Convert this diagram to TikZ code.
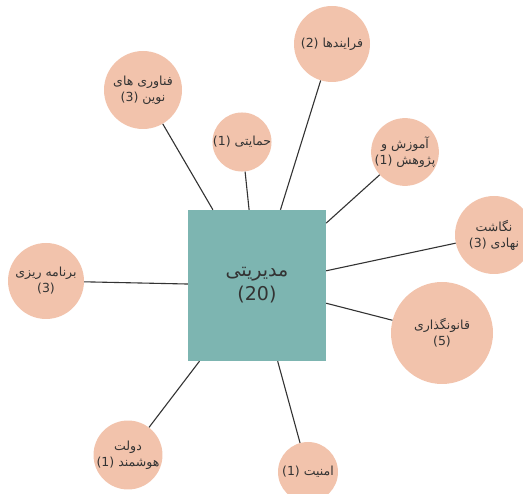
\documentclass[tikz,border=0pt]{standalone}
\usepackage{fontspec}
\newfontfamily\fafont[Script=Arabic]{DejaVu Sans}
\TeXXeTstate=1
\definecolor{mapink}{HTML}{333333}
\definecolor{mapteal}{HTML}{7DB5B1}
\definecolor{mappeach}{HTML}{F2C3AC}
\tikzset{
  core box/.style={
    rectangle, fill=mapteal, draw=none,
    minimum width=138pt, minimum height=151pt, inner sep=0pt,
    text=mapink, align=center, font=\fafont\fontsize{19}{24}\selectfont
  },
  topic circle/.style={
    circle, fill=mappeach, draw=none, inner sep=0pt,
    text=mapink, align=center, font=\fafont\fontsize{12.5}{16}\selectfont
  },
  topic link/.style={
    draw=mapink, line width=1.1pt
  }
}
\newcommand{\rtl}[1]{\beginR #1\endR}
\newcommand{\num}[1]{\beginL(#1)\endL}

\begin{document}
\begin{tikzpicture}[x=1pt,y=-1pt]
  \useasboundingbox (0,0) rectangle (523,494);

  % Topics around the central category, with their counts.
  \node[core box] (mgmt) at (257,285.5) {\rtl{مدیریتی}\\\num{20}};
  \node[topic circle, minimum size=76pt] (proc) at (332,44) {\rtl{فرایندها \num{2}}};
  \node[topic circle, minimum size=78pt] (tech) at (143,90) {\rtl{فناوری های}\\\rtl{نوین \num{3}}};
  \node[topic circle, minimum size=57pt] (supp) at (242,142) {\rtl{حمایتی \num{1}}};
  \node[topic circle, minimum size=54pt] (edu) at (405,152) {\rtl{آموزش و}\\\rtl{پژوهش \num{1}}};
  \node[topic circle, minimum size=78pt] (inst) at (494,235) {\rtl{نگاشت}\\\rtl{نهادی \num{3}}};
  \node[topic circle, minimum size=76pt] (plan) at (46,281) {\rtl{برنامه ریزی}\\\num{3}};
  \node[topic circle, minimum size=102pt] (law) at (442,333) {\rtl{قانونگذاری}\\\num{5}};
  \node[topic circle, minimum size=64pt] (egov) at (128,455) {\rtl{دولت}\\\rtl{هوشمند \num{1}}};
  \node[topic circle, minimum size=60pt] (sec) at (308,472) {\rtl{امنیت \num{1}}};

  % Spokes from the box to every topic.
  \foreach \t in {proc,tech,supp,edu,inst,plan,law,egov,sec}
    \draw[topic link] (mgmt) -- (\t);
\end{tikzpicture}
\end{document}
